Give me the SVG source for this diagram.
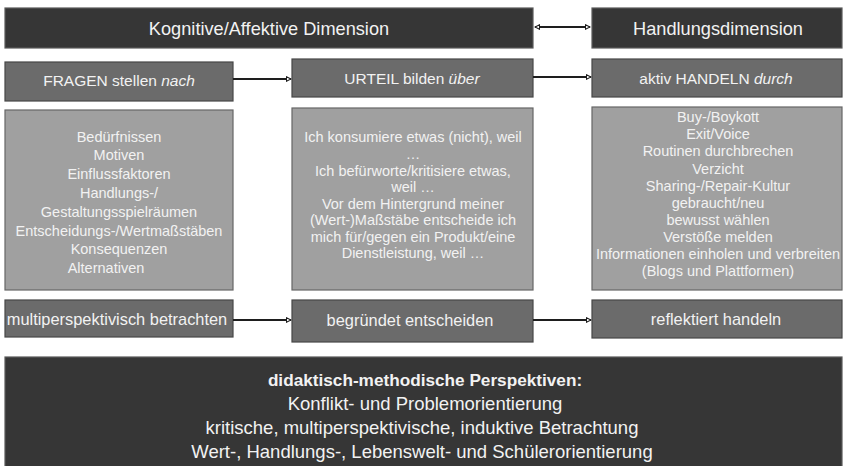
<svg xmlns="http://www.w3.org/2000/svg" width="843" height="466" viewBox="0 0 843 466">
<defs>
<style>
text{font-family:"Liberation Sans",Arial,sans-serif;fill:#f2f2f2;text-anchor:middle}
.dark{fill:#363636;stroke:#5a5a5a;stroke-width:1.2}
.mid{fill:#6b6b6b;stroke:#474747;stroke-width:1.2}
.light{fill:#a0a0a0;stroke:#666666;stroke-width:1.2}
.t1{font-size:18.2px}
.t2{font-size:15.5px}
.t3{font-size:14.5px}
.t4{font-size:16.4px}
.t5{font-size:18.5px}
.b{font-weight:bold;font-size:17.2px}
.conn{stroke:#1e1e1e;stroke-width:2;fill:none}
</style>
<marker id="ah" viewBox="0 0 8 8" refX="7" refY="4" markerWidth="3" markerHeight="3" orient="auto-start-reverse" markerUnits="strokeWidth">
<path d="M1,1 L7,4 L1,7 Z" fill="#ffffff" stroke="#1e1e1e" stroke-width="1.4"/>
</marker>
</defs>
<rect width="843" height="466" fill="#ffffff"/>

<g id="n-kognitiv"><rect class="dark" x="5" y="8" width="528" height="40"/><text class="t1" x="269" y="35">Kognitive/Affektive Dimension</text></g>
<g id="n-handlung"><rect class="dark" x="592" y="8" width="250" height="40"/><text class="t1" x="718" y="35">Handlungsdimension</text></g>

<g id="n-fragen"><rect class="mid" x="5" y="62" width="228" height="39"/><text class="t2" x="119" y="86">FRAGEN stellen <tspan font-style="italic">nach</tspan></text></g>
<g id="n-urteil"><rect class="mid" x="292" y="59" width="241" height="38"/><text class="t2" x="412" y="83.5">URTEIL bilden <tspan font-style="italic">über</tspan></text></g>
<g id="n-aktiv"><rect class="mid" x="592" y="59" width="250" height="38"/><text class="t2" x="716" y="83.5">aktiv HANDELN <tspan font-style="italic">durch</tspan></text></g>

<g id="n-liste1"><rect class="light" x="5" y="110" width="228" height="180"/>
<text class="t3" x="119" y="141.5">Bedürfnissen</text>
<text class="t3" x="119" y="160.3">Motiven</text>
<text class="t3" x="119" y="179.1">Einflussfaktoren</text>
<text class="t3" x="119" y="197.9">Handlungs-/</text>
<text class="t3" x="119" y="216.7">Gestaltungsspielräumen</text>
<text class="t3" x="119" y="235.5">Entscheidungs-/Wertmaßstäben</text>
<text class="t3" x="119" y="254.3">Konsequenzen</text>
<text class="t3" x="106" y="273.1">Alternativen</text>
</g>
<g id="n-liste2"><rect class="light" x="292" y="108" width="241" height="182"/>
<text class="t3" x="413" y="142.4">Ich konsumiere etwas (nicht), weil</text>
<text class="t3" x="413" y="159">…</text>
<text class="t3" x="413" y="175.5">Ich befürworte/kritisiere etwas,</text>
<text class="t3" x="413" y="192.1">weil …</text>
<text class="t3" x="413" y="208.7">Vor dem Hintergrund meiner</text>
<text class="t3" x="413" y="225.2">(Wert-)Maßstäbe entscheide ich</text>
<text class="t3" x="413" y="241.8">mich für/gegen ein Produkt/eine</text>
<text class="t3" x="413" y="258.4">Dienstleistung, weil …</text>
</g>
<g id="n-liste3"><rect class="light" x="592" y="107" width="250" height="183"/>
<text class="t3" x="718" y="122.2">Buy-/Boykott</text>
<text class="t3" x="718" y="139.3">Exit/Voice</text>
<text class="t3" x="718" y="156.4">Routinen durchbrechen</text>
<text class="t3" x="718" y="173.5">Verzicht</text>
<text class="t3" x="718" y="190.6">Sharing-/Repair-Kultur</text>
<text class="t3" x="718" y="207.7">gebraucht/neu</text>
<text class="t3" x="718" y="224.8">bewusst wählen</text>
<text class="t3" x="718" y="241.9">Verstöße melden</text>
<text class="t3" x="718" y="259">Informationen einholen und verbreiten</text>
<text class="t3" x="718" y="276.1">(Blogs und Plattformen)</text>
</g>

<g id="n-multi"><rect class="mid" x="5" y="300" width="228" height="37"/><text class="t4" x="117" y="325">multiperspektivisch betrachten</text></g>
<g id="n-begruendet"><rect class="mid" x="292" y="300" width="241" height="42"/><text class="t4" x="410" y="326">begründet entscheiden</text></g>
<g id="n-reflektiert"><rect class="mid" x="592" y="300" width="250" height="38"/><text class="t4" x="716" y="325">reflektiert handeln</text></g>

<g id="n-perspektiven"><rect class="dark" x="5" y="357" width="837" height="115"/>
<text class="b" x="425" y="386">didaktisch-methodische Perspektiven:</text>
<text class="t5" x="425" y="410">Konflikt- und Problemorientierung</text>
<text class="t5" x="422" y="434">kritische, multiperspektivische, induktive Betrachtung</text>
<text class="t5" x="422" y="458">Wert-, Handlungs-, Lebenswelt- und Schülerorientierung</text>
</g>

<g id="connectors">
<line class="conn" x1="535" y1="27" x2="590" y2="27" marker-start="url(#ah)" marker-end="url(#ah)"/>
<line class="conn" x1="233" y1="79" x2="291" y2="79" marker-end="url(#ah)"/>
<line class="conn" x1="533" y1="77" x2="591" y2="77" marker-end="url(#ah)"/>
<line class="conn" x1="233" y1="320" x2="291" y2="320" marker-end="url(#ah)"/>
<line class="conn" x1="533" y1="320" x2="591" y2="320" marker-end="url(#ah)"/>
</g>
</svg>
